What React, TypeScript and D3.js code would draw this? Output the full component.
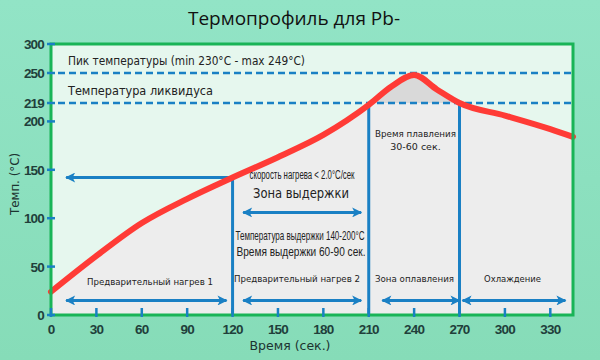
import React from "react";
import * as d3 from "d3";

const TITLE = "Термопрофиль для Pb-";
const timeS = [0, 30, 60, 90, 120, 150, 180, 210, 225, 240, 255, 270, 300, 330, 345];
const tempC = [24, 61, 95, 120, 142, 163, 186, 217, 236, 248, 233, 219, 206, 192, 184];
const xTicks = [0, 30, 60, 90, 120, 150, 180, 210, 240, 270, 300, 330];
const yTicks = [0, 50, 100, 150, 200, 219, 250, 300];
const refLines = [250, 219];
const zoneBounds = [120, 210, 270];
const bottomArrows: [number, number][] = [[10, 116], [127, 205], [219, 270], [272, 340]];
const soakArrow: [number, number, number] = [127, 205, 106];
const leftArrow: [number, number, number] = [120, 10, 142];
const bottomArrowTemp = 15;

const W = 600, H = 360;
const PL = 51, PR = 573, PT = 44, PB = 315;

export default function App() {
  const x = d3.scaleLinear().domain([0, 345]).range([PL, PR]);
  const y = d3.scaleLinear().domain([0, 250, 300]).range([PB, 73, PT]);
  const pts = timeS.map((t, i) => [t, tempC[i]] as [number, number]);
  const line = d3.line<[number, number]>().x(d => x(d[0])).y(d => y(d[1])).curve(d3.curveMonotoneX);
  const area = d3.area<[number, number]>().x(d => x(d[0])).y0(y(0)).y1(d => y(d[1])).curve(d3.curveMonotoneX);
  const blue = "#1a80c4";
  const green = "#19b457";
  const tickCol = "#213f3b";
  const plotFont = "'DejaVu Sans', Verdana, sans-serif";
  const narrowFont = "'Liberation Sans', Arial, sans-serif";

  const T = (props: any) => <text {...props} lengthAdjust={props.textLength ? "spacingAndGlyphs" : undefined} />;

  return (
    <svg width={W} height={H} style={{ position: "absolute", left: 0, top: 0 }}>
      <defs>
        <linearGradient id="bg" x1="0" y1="0" x2="0" y2="1">
          <stop offset="0" stopColor="#92e4c6" />
          <stop offset="1" stopColor="#86dcb8" />
        </linearGradient>
        <marker id="ah" viewBox="0 0 10 10" refX="9" refY="5" markerWidth="14" markerHeight="10" markerUnits="userSpaceOnUse" orient="auto-start-reverse">
          <path d="M0,0 L10,5 L0,10 L2.5,5 Z" fill={blue} />
        </marker>
        <clipPath id="peakClip">
          <rect x={x(210)} y={PT} width={x(270) - x(210)} height={y(219) - PT} />
        </clipPath>
      </defs>
      <rect x={0} y={0} width={W} height={H} fill="url(#bg)" />
      <T x={294} y={25} textAnchor="middle" fontFamily="'Open Sans', sans-serif" fontSize={19} fill="#111">{TITLE}</T>
      <rect x={PL} y={PT} width={PR - PL} height={PB - PT} fill="#e6f7ee" />
      <path d={area(pts) || ""} fill="#ededed" />
      <path d={area(pts) || ""} fill="#d9d9d9" clipPath="url(#peakClip)" />
      {refLines.map(v => (
        <line key={v} x1={58} x2={PR} y1={y(v)} y2={y(v)} stroke={blue} strokeWidth={2.5} strokeDasharray="7,4" />
      ))}
      {zoneBounds.map(t => (
        <line key={t} x1={x(t)} x2={x(t)} y1={y(t === 120 ? leftArrow[2] : 219)} y2={y(0)} stroke={blue} strokeWidth={3} />
      ))}
      <line x1={x(leftArrow[0])} x2={x(leftArrow[1])} y1={y(leftArrow[2])} y2={y(leftArrow[2])} stroke={blue} strokeWidth={3} markerEnd="url(#ah)" />
      <line x1={x(soakArrow[0])} x2={x(soakArrow[1])} y1={y(soakArrow[2])} y2={y(soakArrow[2])} stroke={blue} strokeWidth={3} markerStart="url(#ah)" markerEnd="url(#ah)" />
      {bottomArrows.map(([a, b], i) => (
        <line key={i} x1={x(a)} x2={x(b)} y1={y(bottomArrowTemp)} y2={y(bottomArrowTemp)} stroke={blue} strokeWidth={3} markerStart="url(#ah)" markerEnd="url(#ah)" />
      ))}
      <path d={line(pts) || ""} fill="none" stroke="#ff3b36" strokeWidth={6} strokeLinecap="round" />
      <T x={68} y={64.5} fontFamily={plotFont} fontSize={11.5} fill="#222" textLength={237}>Пик температуры (min 230°C - max 249°C)</T>
      <T x={68} y={95} fontFamily={plotFont} fontSize={12.5} fill="#222" textLength={145}>Температура ликвидуса</T>
      <T x={302} y={179} textAnchor="middle" fontFamily={narrowFont} fontSize={12} fill="#222" textLength={105}>скорость нагрева &lt; 2.0°C/сек</T>
      <T x={301} y={198} textAnchor="middle" fontFamily={plotFont} fontSize={13.5} fill="#222" textLength={96}>Зона выдержки</T>
      <T x={300} y={240} textAnchor="middle" fontFamily={narrowFont} fontSize={13} fill="#222" textLength={129}>Температура выдержки 140-200°C</T>
      <T x={301} y={256} textAnchor="middle" fontFamily={narrowFont} fontSize={13} fill="#222" textLength={129}>Время выдержки 60-90 сек.</T>
      <T x={150} y={284.5} textAnchor="middle" fontFamily={plotFont} fontSize={9.5} fill="#222" textLength={126}>Предварительный нагрев 1</T>
      <T x={297} y={281.5} textAnchor="middle" fontFamily={plotFont} fontSize={9.5} fill="#222" textLength={126}>Предварительный нагрев 2</T>
      <T x={414.5} y={281.5} textAnchor="middle" fontFamily={plotFont} fontSize={9.5} fill="#222" textLength={79}>Зона оплавления</T>
      <T x={512.5} y={281.5} textAnchor="middle" fontFamily={plotFont} fontSize={9.5} fill="#222" textLength={57}>Охлаждение</T>
      <T x={415.5} y={136.5} textAnchor="middle" fontFamily={plotFont} fontSize={9.5} fill="#222" textLength={81}>Время плавления</T>
      <T x={415.5} y={150} textAnchor="middle" fontFamily={plotFont} fontSize={9.5} fill="#222">30-60 сек.</T>
      <rect x={PL} y={PT} width={PR - PL} height={PB - PT} fill="none" stroke={green} strokeWidth={3} />
      {yTicks.map(v => (
        <g key={v}>
          <line x1={PL - 4} x2={PL + 4} y1={y(v)} y2={y(v)} stroke={blue} strokeWidth={2.5} />
          <T x={44} y={y(v) + 5} textAnchor="end" fontFamily={narrowFont} fontWeight="bold" fontSize={13.5} fill={tickCol} letterSpacing={-0.8}>{v}</T>
        </g>
      ))}
      {xTicks.map(v => (
        <g key={v}>
          <line x1={x(v)} x2={x(v)} y1={PB - 7} y2={PB + 2} stroke={blue} strokeWidth={2.5} />
          <T x={x(v)} y={333.5} textAnchor="middle" fontFamily={narrowFont} fontWeight="bold" fontSize={13.5} fill={tickCol} letterSpacing={-0.8}>{v}</T>
        </g>
      ))}
      <T x={290} y={350} textAnchor="middle" fontFamily={plotFont} fontSize={13} fill="#1d3431" textLength={81}>Время (сек.)</T>
      <T transform={`translate(19,${184}) rotate(-90)`} textAnchor="middle" fontFamily={plotFont} fontSize={13} fill="#1d3431" textLength={62}>Темп. (°C)</T>
    </svg>
  );
}
